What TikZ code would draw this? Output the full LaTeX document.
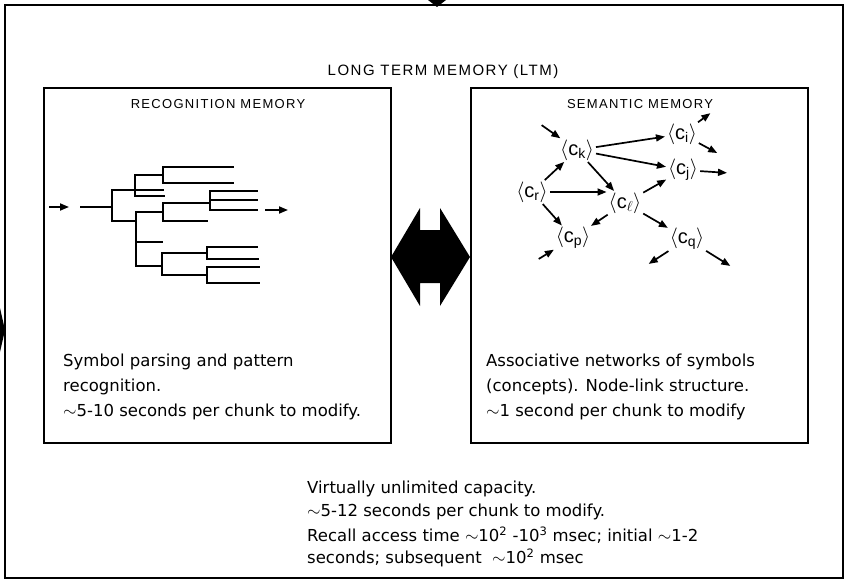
\documentclass[tikz,border=0pt]{standalone}
\usepackage{fontspec}
\setmainfont{DejaVu Sans}
\newfontfamily\capsfont[LetterSpace=10]{Liberation Sans}
\newfontfamily\cfont{Liberation Sans}
\usetikzlibrary{arrows.meta}
\begin{document}
\begin{tikzpicture}[x=1pt,y=-1pt,
  frame/.style={draw, line width=1.7pt},
  tree/.style={line width=1.7pt, line cap=rect},
  link/.style={line width=1.7pt, -{Triangle[length=9pt,width=7pt]}, shorten <=2pt, shorten >=2pt},
  cnode/.style={inner sep=0pt, font=\cfont\fontsize{20}{20}\selectfont},
  caps/.style={font=\capsfont\fontsize{15}{16}\selectfont},
  boxcaps/.style={font=\capsfont\fontsize{13}{16}\selectfont},
  body/.style={font=\fontsize{16.5}{25}\selectfont, align=left, anchor=west, inner sep=0pt}]
\useasboundingbox (0,0) rectangle (850,583);
% outer frame
\draw[frame] (5,5) rectangle (843,578);
\fill (428,0) -- (446,0) -- (437,7) -- cycle;
\fill (0,308) -- (5,330) -- (0,352) -- cycle;
\node[caps] (title) at (443,72) {LONG TERM MEMORY (LTM)};
% boxes
\draw[frame] (44,88) rectangle (391,443);
\draw[frame] (471,88) rectangle (808,443);
\node[boxcaps] (rt) at (218,104) {RECOGNITION MEMORY};
\node[boxcaps] (st) at (640,104) {SEMANTIC MEMORY};
% big double arrow
\fill (391,257) -- (420,208) -- (420,230) -- (440,230) -- (440,208) -- (470,257)
  -- (440,306) -- (440,283) -- (420,283) -- (420,306) -- cycle;
% tree
\draw[link, shorten <=0pt, shorten >=0pt] (49,207) -- (69,207);
\draw[link, shorten <=0pt, shorten >=0pt] (265,210) -- (288,210);
\draw[tree] (81,207) -- (112,207) (112,190) -- (112,221);
\draw[tree] (112,190) -- (163,190) (135,175) -- (135,196) (135,175) -- (163,175)
  (163,167) -- (163,183) (163,167) -- (233,167) (163,183) -- (233,183) (135,196) -- (164,196);
\draw[tree] (112,221) -- (136,221) (136,212) -- (136,266)
  (136,212) -- (163,212) (163,203) -- (163,221) (163,203) -- (210,203)
  (210,191) -- (210,210) (210,191) -- (257,191) (210,200) -- (257,200) (210,210) -- (257,210)
  (163,221) -- (207,221)
  (136,242) -- (162,242)
  (136,266) -- (162,266) (162,253) -- (162,275) (162,253) -- (207,253)
  (207,247) -- (207,259) (207,247) -- (257,247) (207,259) -- (258,259)
  (162,275) -- (207,275) (207,267) -- (207,283) (207,267) -- (259,267) (207,283) -- (259,283);
% semantic network
\node[cnode] (ck) at (577,150) {$\Big\langle$c\textsubscript{k}$\Big\rangle$};
\node[cnode] (ci) at (682,134) {$\Big\langle$c\textsubscript{i}$\Big\rangle$};
\node[cnode] (cj) at (683,170) {$\Big\langle$c\textsubscript{j}$\Big\rangle$};
\node[cnode] (cr) at (532,192) {$\Big\langle$c\textsubscript{r}$\Big\rangle$};
\node[cnode] (cl) at (625,203) {$\Big\langle$c\textsubscript{$\ell$}$\Big\rangle$};
\node[cnode] (cp) at (573,238) {$\Big\langle$c\textsubscript{p}$\Big\rangle$};
\node[cnode] (cq) at (687,239) {$\Big\langle$c\textsubscript{q}$\Big\rangle$};
\coordinate (ink) at (540,124);
\coordinate (inp) at (537,260);
\coordinate (oi1) at (719,154);
\coordinate (oi2) at (712,112);
\coordinate (oj) at (729,173);
\coordinate (oq1) at (647,265);
\coordinate (oq2) at (732,267);
\draw[link] (ink) -- (ck);
\draw[link] (ck) -- (ci);
\draw[link] (ck) -- (cj);
\draw[link] (ck) -- (cl);
\draw[link] (cr) -- (ck);
\draw[link] (cr.east) -- (cr.east -| cl.west);
\draw[link] (cr) -- (cp);
\draw[link] (cl) -- (cj);
\draw[link] (cl) -- (cp);
\draw[link] (cl) -- (cq);
\draw[link] (ci) -- (oi1);
\draw[link] (ci) -- (oi2);
\draw[link] (cj) -- (oj);
\draw[link] (inp) -- (cp);
\draw[link] (cq) -- (oq1);
\draw[link] (cq) -- (oq2);
% texts
\node[body] (l1) at (63,362) {Symbol parsing and pattern};
\node[body] (l2) at (63,387) {recognition.};
\node[body] (l3) at (63,412) {$\sim$5-10 seconds per chunk to modify.};
\node[body] (r1) at (486,362) {Associative networks of symbols};
\node[body] (r2) at (486,387) {(concepts). Node-link structure.};
\node[body] (r3) at (486,412) {$\sim$1 second per chunk to modify};
\node[body] (b1) at (307,489) {Virtually unlimited capacity.};
\node[body] (b2) at (307,512) {$\sim$5-12 seconds per chunk to modify.};
\node[body] (b3) at (307,535) {Recall access time $\sim$10\textsuperscript{2} -10\textsuperscript{3} msec; initial $\sim$1-2};
\node[body] (b4) at (307,558) {seconds; subsequent \ $\sim$10\textsuperscript{2} msec};
\end{tikzpicture}
\end{document}
